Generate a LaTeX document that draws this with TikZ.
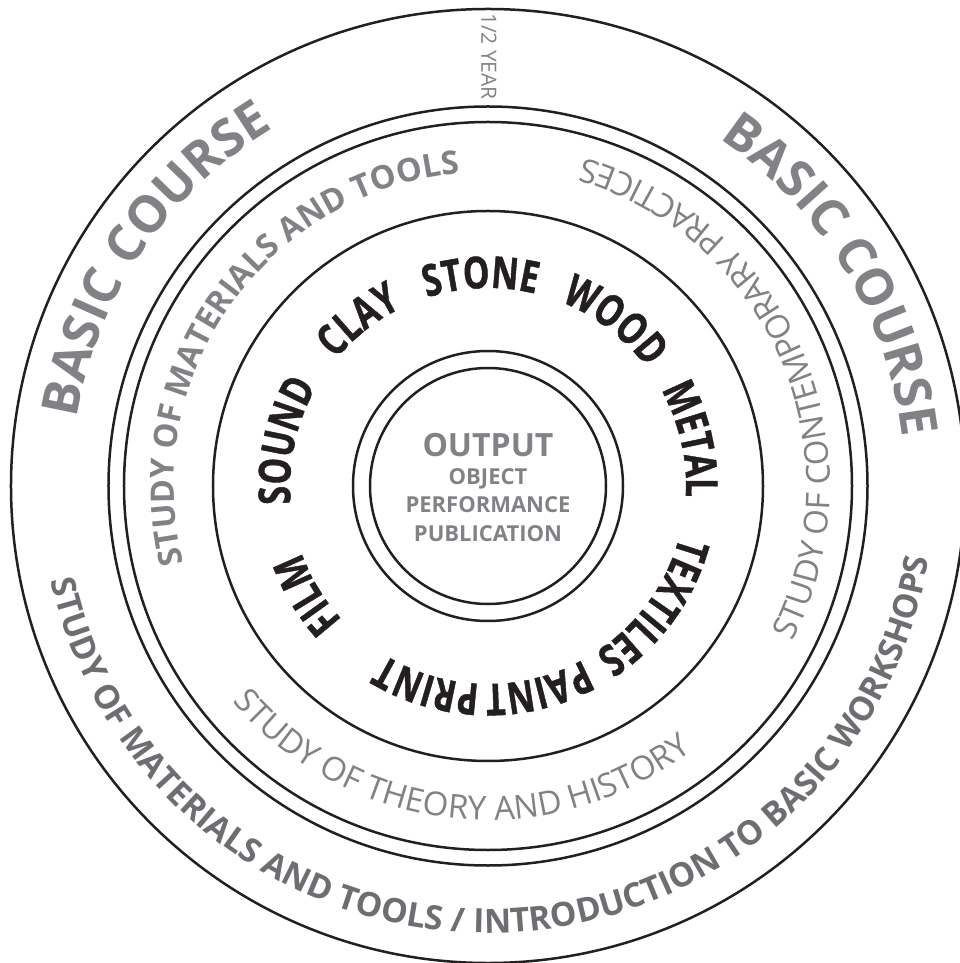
\documentclass[tikz,border=0pt]{standalone}
\usepackage{fontspec}
\setmainfont{Open Sans}
\newfontfamily\matfont{Open Sans}[FakeStretch=0.76, BoldFeatures={FakeBold=1}]
\usetikzlibrary{decorations.text}
\definecolor{txtgray}{HTML}{808285}
\definecolor{dkgray}{HTML}{6D6E71}
\definecolor{ink}{HTML}{231F20}
\newcommand\fBasic{\bfseries\fontsize{51}{51}\selectfont\color{txtgray}}
\newcommand\fStudyB{\bfseries\fontsize{32.5}{34}\selectfont\color{txtgray}}
\newcommand\fStudyD{\bfseries\fontsize{33.5}{34}\selectfont\color{dkgray}}
\newcommand\fStudyL{\fontsize{33}{34}\selectfont\color{txtgray}}
\newcommand\fMat{\matfont\bfseries\fontsize{44}{44}\selectfont\color{ink}}
% clockwise text, tops outward: angle, radius, half span, text
\newcommand\cwtext[4]{%
  \path[decorate, decoration={text along path, text align=center, text={#4}}]
    (#1+#3:#2pt) arc[start angle=#1+#3, end angle=#1-#3, radius=#2pt];}
% counter-clockwise text, tops inward
\newcommand\ccwtext[4]{%
  \path[decorate, decoration={text along path, text align=center, text={#4}}]
    (#1-#3:#2pt) arc[start angle=#1-#3, end angle=#1+#3, radius=#2pt];}
\tikzset{
  ring/.style={draw=ink, line width=2.5pt},
  centertext/.style={text=txtgray, font=\bfseries, anchor=base, inner sep=0pt}
}
\begin{document}
\begin{tikzpicture}
\useasboundingbox (-488pt,-477pt) rectangle (471pt,486pt);
% rings
\draw[ring] (0,0) circle[radius=477pt];
\draw[ring] (0,0) circle[radius=379.5pt];
\draw[ring] (0,0) circle[radius=364pt];
\draw[ring] (0,0) circle[radius=275pt];
\draw[ring] (0,0) circle[radius=135pt];
\draw[ring] (0,0) circle[radius=118pt];
% half year
\node[text=txtgray, rotate=-90, font=\fontsize{21}{21}\selectfont, inner sep=0pt] (year) at (1pt,429.5pt) {1/2 YEAR};
% outer band
\cwtext{145.8}{417}{40}{|\fBasic|BASIC COURSE}
\cwtext{31.5}{417}{40}{|\fBasic|BASIC COURSE}
\ccwtext{271.5}{447}{100}{|\fStudyD|STUDY OF MATERIALS AND TOOLS / INTRODUCTION TO BASIC WORKSHOPS}
% inner band
\cwtext{144.7}{314}{75}{|\fStudyB|STUDY OF MATERIALS AND TOOLS}
\ccwtext{23.3}{342}{75}{|\fStudyL|STUDY OF CONTEMPORARY PRACTICES}
\ccwtext{263.9}{334}{75}{|\fStudyL|STUDY OF THEORY AND HISTORY}
% materials ring
\cwtext{211}{198}{40}{|\fMat|FILM}
\cwtext{167.5}{198}{40}{|\fMat|SOUND}
\cwtext{128}{198}{40}{|\fMat|CLAY}
\cwtext{92}{198}{40}{|\fMat|STONE}
\cwtext{52.5}{198}{40}{|\fMat|WOOD}
\cwtext{13}{198}{40}{|\fMat|METAL}
\cwtext{-36}{198}{40}{|\fMat|TEXTILES}
\cwtext{-76}{198}{40}{|\fMat|PAINT}
\cwtext{-107}{198}{40}{|\fMat|PRINT}
% output
\node[centertext, font=\bfseries\fontsize{32}{32}\selectfont] (output) at (0pt,29pt) {OUTPUT};
\node[centertext, font=\bfseries\fontsize{22}{22}\selectfont] (object) at (0pt,1pt) {OBJECT};
\node[centertext, font=\bfseries\fontsize{22}{22}\selectfont] (perf) at (0pt,-27pt) {PERFORMANCE};
\node[centertext, font=\bfseries\fontsize{22}{22}\selectfont] (pub) at (0pt,-56pt) {PUBLICATION};
\end{tikzpicture}
\end{document}
